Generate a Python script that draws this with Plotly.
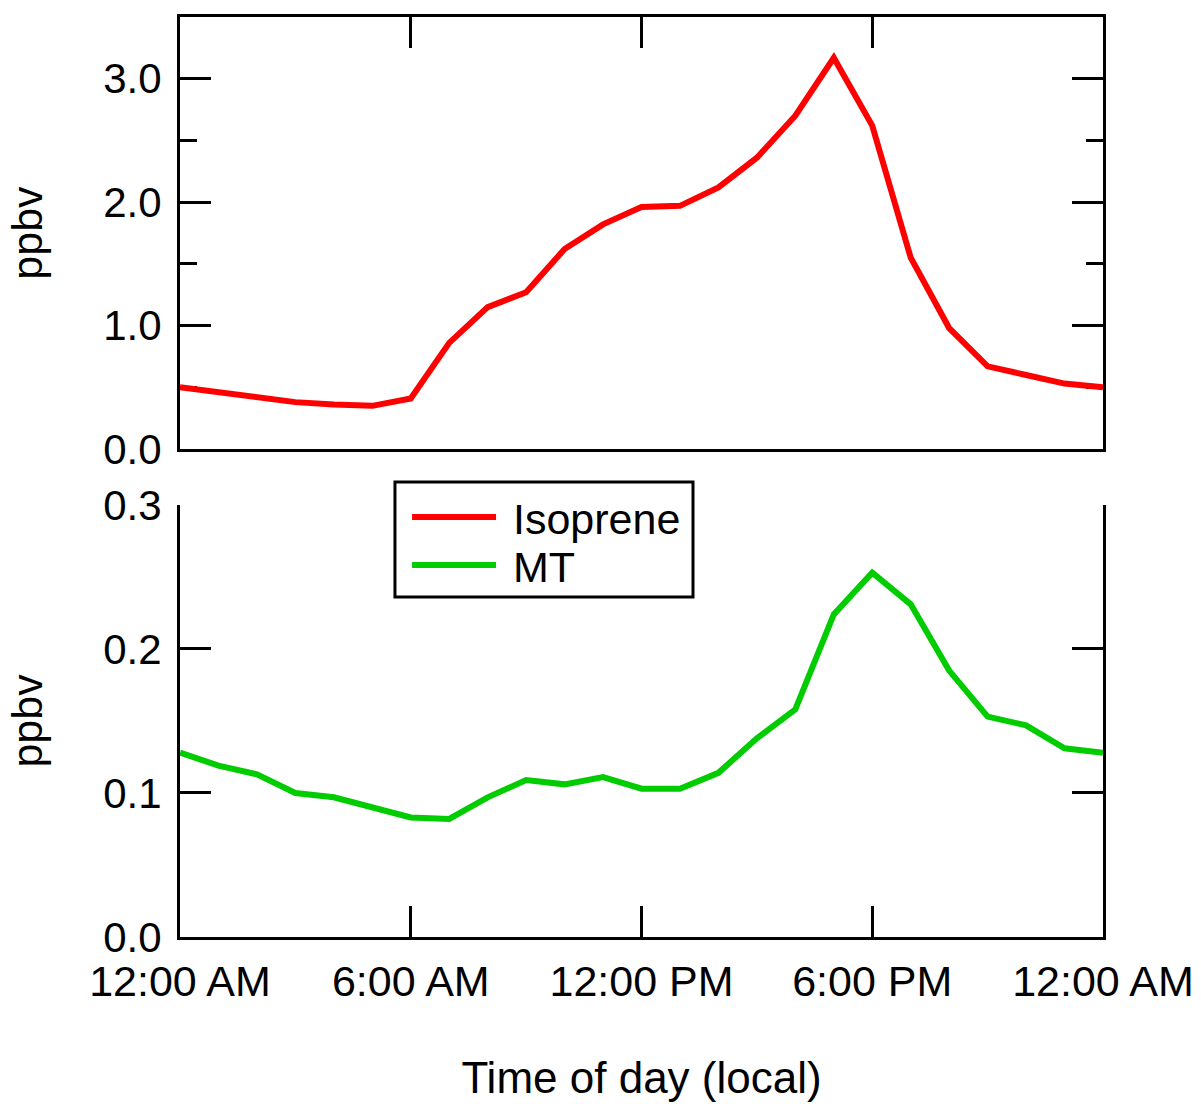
import plotly.graph_objects as go

hours = list(range(25))
isoprene = [0.50, 0.46, 0.41, 0.38, 0.36, 0.35, 0.41, 0.86, 1.15, 1.27, 1.62, 1.82,
            1.96, 1.97, 2.12, 2.36, 2.70, 3.17, 2.62, 1.55, 0.98, 0.67, 0.60, 0.53, 0.50]
mt = [0.128, 0.119, 0.113, 0.100, 0.097, 0.090, 0.083, 0.082, 0.097, 0.109, 0.106, 0.111,
      0.103, 0.103, 0.114, 0.138, 0.158, 0.224, 0.253, 0.231, 0.185, 0.153, 0.147, 0.131, 0.128]
x_tickvals = [0, 6, 12, 18, 24]
x_ticktext = ["12:00 AM", "6:00 AM", "12:00 PM", "6:00 PM", "12:00 AM"]
top_tickvals = [0, 1, 2, 3]
top_ticktext = ["0.0", "1.0", "2.0", "3.0"]
bot_tickvals = [0, 0.1, 0.2, 0.3]
bot_ticktext = ["0.0", "0.1", "0.2", "0.3"]

FONT = "Liberation Sans, Arial, sans-serif"
YFS = 42
XFS = 43
TFS = 44
LFS = 43

fig = go.Figure()
fig.add_trace(go.Scatter(x=hours, y=isoprene, mode="lines", name="\u00a0Isoprene",
                         line=dict(color="#ff0000", width=6), xaxis="x", yaxis="y",
                         legend="legend"))
fig.add_trace(go.Scatter(x=hours, y=mt, mode="lines", name="\u00a0MT",
                         line=dict(color="#00cc00", width=6), xaxis="x2", yaxis="y2",
                         legend="legend2"))

common_axis = dict(showgrid=False, zeroline=False, showline=True, linecolor="black",
                   linewidth=3, ticks="inside", tickcolor="black", tickwidth=3,
                   ticklen=31, automargin=False, layer="below traces")

leg_common = dict(xanchor="left", yanchor="middle", borderwidth=0,
                  bgcolor="rgba(0,0,0,0)",
                  font=dict(family=FONT, size=LFS, color="black"), itemwidth=84)

fig.update_layout(
    width=1201, height=1104,
    margin=dict(l=180, r=98, t=17, b=167),
    paper_bgcolor="white", plot_bgcolor="white",
    font=dict(family=FONT, size=YFS, color="black"),
    showlegend=True,
    legend=dict(leg_common, x=0.246, y=0.4565),
    legend2=dict(leg_common, x=0.246, y=0.4043),
    shapes=[dict(type="rect", xref="paper", yref="paper",
                 x0=0.2329, x1=0.5558, y0=0.3696, y1=0.4946,
                 line=dict(color="black", width=3), fillcolor="rgba(0,0,0,0)",
                 layer="above")],
    xaxis=dict(common_axis, domain=[0, 1], range=[0, 24], anchor="y", side="top",
               mirror=True, tickvals=x_tickvals, showticklabels=False),
    yaxis=dict(common_axis, domain=[0.5304, 1], range=[0, 3.5], anchor="x",
               mirror="ticks", tickvals=top_tickvals, ticktext=top_ticktext,
               tickfont=dict(family=FONT, size=YFS, color="black"),
               minor=dict(tickvals=[0.5, 1.5, 2.5], ticklen=17, tickwidth=3,
                          tickcolor="black", ticks="inside"),
               ticklabelstandoff=7,
               title=dict(text="ppbv", font=dict(family=FONT, size=TFS - 1), standoff=48)),
    xaxis2=dict(common_axis, domain=[0, 1], range=[0, 24], anchor="y2",
                tickvals=x_tickvals, ticktext=x_ticktext, ticklabelstandoff=4,
                tickfont=dict(family=FONT, size=XFS, color="black"),
                title=dict(text="Time of day (local)", font=dict(family=FONT, size=TFS),
                           standoff=59)),
    yaxis2=dict(common_axis, domain=[0, 0.4696], range=[0, 0.3], anchor="x2",
                mirror="ticks", tickvals=bot_tickvals, ticktext=bot_ticktext,
                tickfont=dict(family=FONT, size=YFS, color="black"),
                ticklabelstandoff=7,
                title=dict(text="ppbv", font=dict(family=FONT, size=TFS - 1), standoff=48)),
)

fig.write_html("out.html")
